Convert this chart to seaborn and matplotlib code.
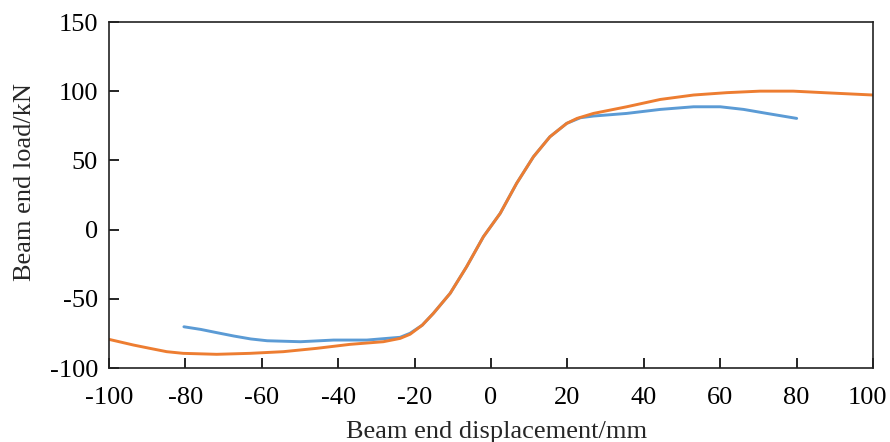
import matplotlib
matplotlib.use("Agg")
import matplotlib.pyplot as plt
import matplotlib.transforms as mtransforms
import seaborn as sns
import pandas as pd

# values
blue_disp = [-80.4, -76, -71.7, -67.3, -62.9, -58.6, -49.9, -41.2, -32.5, -23.8, -21.2,
             -18, -15.1, -10.7, -6.4, -2.0, 2.4, 6.7, 11.1, 15.4, 19.8, 23.4, 26.8, 35.5,
             44.3, 53.0, 60.0, 66.1, 72.2, 80.0]
blue_load = [-70.2, -72.1, -74.5, -76.9, -79.0, -80.3, -81.0, -79.8, -79.8, -77.8, -74.9,
             -69, -60.5, -46.0, -26.8, -5.1, 11.8, 33.5, 52.7, 67.1, 76.8, 80.9, 82.1, 84.0,
             86.9, 88.8, 88.8, 86.9, 84.0, 80.4]

orange_disp = [-100, -93.6, -89.3, -84.9, -80.6, -71.8, -63.1, -54.4, -45.7, -36.9, -28.2,
               -23.8, -21.2, -18, -15.1, -10.7, -6.4, -2.0, 2.4, 6.7, 11.1, 15.4, 19.8,
               22.5, 26.8, 35.5, 44.3, 53.0, 61.7, 70.4, 79.1, 87.8, 100]
orange_load = [-79.3, -83.4, -85.8, -88.2, -89.4, -90.1, -89.4, -88.2, -85.8, -82.9, -81.0,
               -78.6, -75.6, -69, -60.5, -46.0, -26.8, -5.1, 11.8, 33.5, 52.7, 67.1, 76.8,
               80.4, 84.0, 88.8, 94.1, 97.3, 99.0, 100.1, 100.1, 98.9, 97.3]

x_ticks = [-100, -80, -60, -40, -20, 0, 20, 40, 60, 80, 100]
y_ticks = [-100, -50, 0, 50, 100, 150]

df = pd.concat([
    pd.DataFrame({"disp": blue_disp, "load": blue_load, "series": "blue"}),
    pd.DataFrame({"disp": orange_disp, "load": orange_load, "series": "orange"}),
])

sns.set_style("ticks")
plt.rcParams["font.family"] = ["Liberation Serif", "DejaVu Serif"]
plt.rcParams["axes.unicode_minus"] = False

fig = plt.figure(figsize=(8.9, 4.42), dpi=100)
ax = fig.add_axes([0.1225, 0.1674, 0.8585, 0.7826])

sns.lineplot(data=df, x="disp", y="load", hue="series", sort=False,
             palette={"blue": "#5B9BD5", "orange": "#ED7D31"},
             linewidth=2.1, legend=False, ax=ax)

ax.set_xlim(-100, 100)
ax.set_ylim(-100, 150)
ax.set_xticks(x_ticks)
ax.set_yticks(y_ticks)
ax.tick_params(direction="in", length=7, width=1.2, labelsize=19, colors="black",
               top=False, right=False)
ax.tick_params(axis="x", pad=14)
ax.tick_params(axis="y", pad=8)
for s in ax.spines.values():
    s.set_visible(True)
    s.set_linewidth(1.2)
    s.set_color("#222222")

# last x label sits a little left so it stays inside the figure
last = ax.get_xticklabels()[-1]
last.set_transform(last.get_transform() + mtransforms.ScaledTranslation(-6 / 100, 0, fig.dpi_scale_trans))

ax.set_xlabel("Beam end displacement/mm", fontsize=19, va="top")
ax.xaxis.set_label_coords(0.5066, -0.153)
ax.set_ylabel("Beam end load/kN", fontsize=19)
ax.yaxis.set_label_coords(-0.0955, 0.5376)

fig.savefig("out.png", dpi=100)
